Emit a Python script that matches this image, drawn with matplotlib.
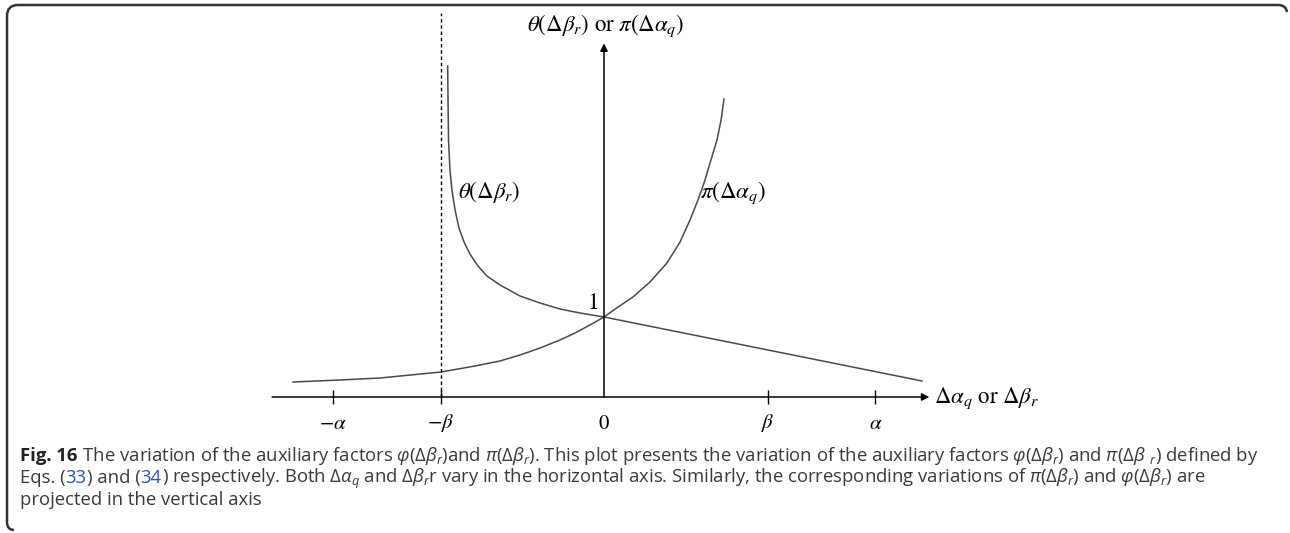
import matplotlib
matplotlib.use("Agg")
import matplotlib.pyplot as plt
from matplotlib.path import Path
from matplotlib.patches import PathPatch

# curve samples (x in units of beta, y in units of the value at 0)
theta_x = [-0.956, -0.954, -0.951, -0.942, -0.930, -0.911, -0.887, -0.856, -0.820,
           -0.771, -0.716, -0.636, -0.514, -0.391, -0.269, -0.147, 0.0, 1.945]
theta_y = [4.1375, 3.7125, 3.2125, 2.8375, 2.5875, 2.3375, 2.1125, 1.9375, 1.7875,
           1.6375, 1.5125, 1.40, 1.2625, 1.175, 1.10, 1.05, 1.0, 0.20]
pi_x = [-1.902, -1.615, -1.370, -0.997, -0.789, -0.636, -0.514, -0.391, -0.269,
        -0.177, -0.086, 0.0, 0.086, 0.177, 0.281, 0.385, 0.465, 0.526, 0.575,
        0.618, 0.654, 0.691, 0.716, 0.734]
pi_y = [0.1875, 0.2125, 0.2375, 0.3125, 0.3875, 0.45, 0.525, 0.6125, 0.7125,
        0.80, 0.90, 1.0, 1.125, 1.25, 1.4375, 1.675, 1.9375, 2.2125, 2.4625,
        2.7125, 2.9625, 3.2125, 3.4625, 3.725]

tick_pos = [-1.66, -1.0, 0.0, 1.0, 1.66]
tick_labels = [r"$-\alpha$", r"$-\beta$", r"$0$", r"$\beta$", r"$\alpha$"]
tick_marks = [-1.66, -1.0, 1.0, 1.66]

W, H = 1290, 533
X0, SX = 604, 163.5   # pixel of x=0, pixels per beta
Y0, SY = 397, 80.0    # pixel of y=0, pixels per unit

plt.rcParams['mathtext.fontset'] = 'custom'
plt.rcParams['mathtext.rm'] = 'Open Sans'
plt.rcParams['mathtext.it'] = 'Open Sans:italic'
plt.rcParams['mathtext.bf'] = 'Open Sans:bold'

fig = plt.figure(figsize=(W / 100, H / 100), dpi=100)
ax = fig.add_axes([0, 0, 1, 1])
ax.set_xlim(-X0 / SX, (W - X0) / SX)
ax.set_ylim(-(H - Y0) / SY, Y0 / SY)
ax.axis('off')

curve_col = '#4a4a4a'
ax.plot(theta_x, theta_y, color=curve_col, lw=1.1, solid_joinstyle='round')
ax.plot(pi_x, pi_y, color=curve_col, lw=1.1, solid_joinstyle='round')

# axes with arrows
arr = dict(arrowstyle='-|>', lw=1.1, color='black', mutation_scale=11, shrinkA=0, shrinkB=0)
ax.annotate('', xy=(1.99, 0), xytext=(-2.03, 0), arrowprops=arr)
ax.annotate('', xy=(0, 4.42), xytext=(0, 0), arrowprops=arr)
ax.vlines(-1.0, 0, 4.8, colors='black', linestyles=(0, (2.5, 2)), lw=1.0)
ax.vlines(tick_marks, -0.09, 0.09, colors='black', lw=1.0)

mfont = dict(math_fontfamily='stix', fontsize=16.5, color='black')
for xp, lab in zip(tick_pos, tick_labels):
    ax.text(xp, -0.33, lab, ha='center', va='center', math_fontfamily='stix',
            fontsize=15, color='black')

ax.text(0.01, 4.64, r"$\theta(\Delta\beta_r)\ \mathrm{or}\ \pi\left(\Delta\alpha_q\right)$",
        ha='center', va='center', **mfont)
ax.text(-0.89, 2.56, r"$\theta(\Delta\beta_r)$", ha='left', va='center', **mfont)
ax.text(0.585, 2.55, r"$\pi\left(\Delta\alpha_q\right)$", ha='left', va='center', **mfont)
ax.text(-0.073, 1.18, r"$1$", ha='center', va='center', **mfont)
ax.text(2.02, -0.02, r"$\Delta\alpha_q\ \mathrm{or}\ \Delta\beta_r$", ha='left', va='center',
        **mfont)

# caption, placed piece by piece so the equation numbers can be blue
renderer = fig.canvas.get_renderer()
cap = dict(family='Open Sans', fontsize=13.3, color='#3a3a3a', va='baseline', ha='left')


def caption_line(parts, x, y):
    for s, kw in parts:
        opts = dict(cap)
        opts.update(kw)
        t = fig.text(x / W, 1 - y / H, s, **opts)
        x += t.get_window_extent(renderer).width


blue = dict(color='#2b50c8')
caption_line([("Fig. 16", dict(fontweight='bold', color='#222222')),
              (r" The variation of the auxiliary factors $\varphi(\Delta\beta_r)$and "
               r"$\pi(\Delta\beta_r)$. This plot presents the variation of the auxiliary "
               r"factors $\varphi(\Delta\beta_r)$ and $\pi(\Delta\beta\ {}_r)$ defined by", {})],
             20, 461)
caption_line([("Eqs. (", {}), ("33", blue), (") and (", {}), ("34", blue),
              (r") respectively. Both $\Delta\alpha_q$ and $\Delta\beta_r$r vary in the "
               r"horizontal axis. Similarly, the corresponding variations of "
               r"$\pi(\Delta\beta_r)$ and $\varphi(\Delta\beta_r)$ are", {})],
             20, 483)
caption_line([("projected in the vertical axis", {})], 20, 505)

# partial rounded frame (top and left edges)
def fp(x, y):
    return (x / W, 1 - y / H)

verts = [fp(7, 522), fp(7, 16), fp(7, 5), fp(18, 5), fp(1278, 5), fp(1286, 5), fp(1287, 12)]
codes = [Path.MOVETO, Path.LINETO, Path.CURVE3, Path.CURVE3, Path.LINETO, Path.CURVE3, Path.CURVE3]
fig.add_artist(PathPatch(Path(verts, codes), transform=fig.transFigure, fill=False,
                         lw=1.8, ec='#333333'))
verts2 = [fp(7, 522), fp(7, 530), fp(14, 530)]
fig.add_artist(PathPatch(Path(verts2, [Path.MOVETO, Path.CURVE3, Path.CURVE3]),
                         transform=fig.transFigure, fill=False, lw=1.8, ec='#333333'))

fig.savefig('out.png', dpi=100)
